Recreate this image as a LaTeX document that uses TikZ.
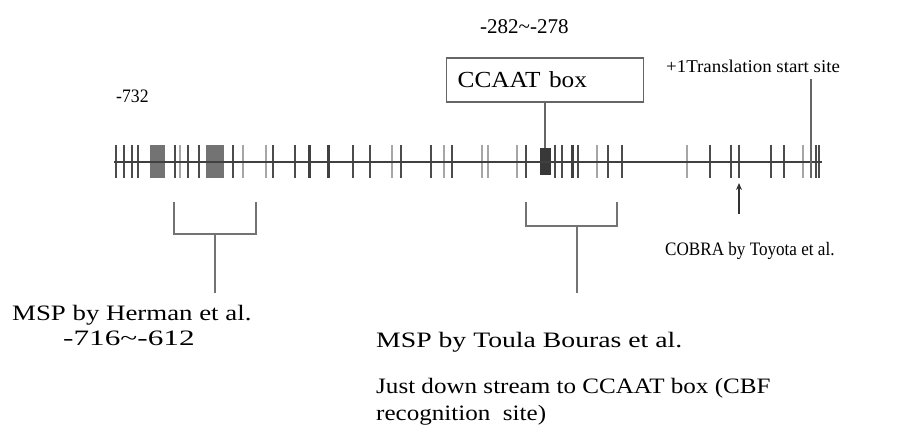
\documentclass[tikz,border=0pt]{standalone}
\usepackage{fontspec}
\setmainfont{Liberation Serif}
\usetikzlibrary{arrows.meta}
\begin{document}
\begin{tikzpicture}[x=1pt,y=-1pt,
  tick/.style={draw=black!70,line width=1.6pt},
  faint/.style={draw=black!35,line width=2pt},
  heavy/.style={draw=black!75,line width=3pt},
  band/.style={fill=black!55,draw=none},
  bracket/.style={draw=black!55,line width=1.4pt},
  lead/.style={draw=black!60,line width=1.4pt},
  lbl/.style={inner sep=0pt,anchor=base west,font=\fontsize{22}{26}\selectfont},
  small/.style={inner sep=0pt,anchor=base west,font=\fontsize{18}{22}\selectfont},
]
\useasboundingbox (0,0) rectangle (918,427);

% shaded runs of closely spaced sites
\fill[band] (150,145) rectangle (165,178);
\fill[band] (206,145) rectangle (224,178);

% individual sites along the promoter
\foreach \x in {116,124,132,138,175,188,199,233,273,295,353,370,401,431,452,526,555,562,578,608,622,710,731,739,771,784,816,819}
  \draw[tick] (\x,145) -- (\x,178);
\foreach \x in {180,243,266,392,444,482,488,517,597,687,803}
  \draw[faint] (\x,145) -- (\x,178);
\foreach \x in {309,328,572}
  \draw[heavy] (\x,145) -- (\x,178);

% CCAAT site
\node[fill=black!78,inner sep=0pt,minimum width=11pt,minimum height=27pt] (cmark) at (545,161.5) {};
% translation start site mark
\node[inner sep=0pt,minimum width=2pt,minimum height=33pt] (tmark) at (811,161.5) {};

% promoter line
\coordinate (p0) at (114,162);
\coordinate (p1) at (822,162);
\draw[black!75,line width=1.8pt] (p0) -- (p1);

% labels above the line
\node[inner sep=0pt,anchor=base west,font=\fontsize{19}{23}\selectfont] (n732) at (116,103) {\scalebox{0.93}[1]{-732}};
\node[inner sep=0pt,anchor=base west,font=\fontsize{21}{25}\selectfont] (npos) at (480,34) {-282\textasciitilde-278};
\node[draw=black!60,line width=1.3pt,anchor=west,inner xsep=11pt,inner ysep=0pt,
      text width=175pt,minimum height=44pt,font=\fontsize{23}{27}\selectfont] (ccaat) at (446,80)
      {\scalebox{1.1}[1]{CCAAT box}};
\node[small] (tss) at (666,73) {\scalebox{1.05}[1]{+1Translation start site}};
\coordinate (tsstop) at (811,79);

\draw[lead] (ccaat.south -| cmark) -- (cmark.north);
\draw[lead] (tsstop) -- (tmark.south);

% COBRA arrow
\coordinate (cobratail) at (739,214);
\coordinate (cobrahead) at (739,183);
\draw[black!80,line width=1.2pt,-{Stealth[length=7pt,width=6pt]}] (cobratail) -- (cobrahead);
\node[inner sep=0pt,anchor=base west,font=\fontsize{19}{23}\selectfont] (cobra) at (665,256) {\scalebox{0.9}[1]{COBRA by Toyota et al.}};

% Herman bracket
\coordinate (hl) at (174,202);
\coordinate (hr) at (256,202);
\coordinate (hs) at (215,234);
\coordinate (he) at (215,293);
\draw[bracket] (hl) -- (hl |- hs) -- (hr |- hs) -- (hr);
\draw[bracket] (hs) -- (he);
\node[lbl] (herman) at (12,321) {\scalebox{1.22}[1]{MSP by Herman et al.}};
\node[lbl] (hpos) at (63,345) {\scalebox{1.42}[1]{-716\textasciitilde-612}};

% Bouras bracket
\coordinate (bl) at (526,202);
\coordinate (br) at (617,202);
\coordinate (bs) at (577,226);
\coordinate (be) at (577,293);
\draw[bracket] (bl) -- (bl |- bs) -- (br |- bs) -- (br);
\draw[bracket] (bs) -- (be);
\node[lbl] (bouras) at (376,348) {\scalebox{1.26}[1]{MSP by Toula Bouras et al.}};
\node[lbl] (note1) at (376,393) {\scalebox{1.14}[1]{Just down stream to CCAAT box (CBF}};
\node[lbl] (note2) at (376,420) {\scalebox{1.14}[1]{recognition\ \ site)}};
\end{tikzpicture}
\end{document}
